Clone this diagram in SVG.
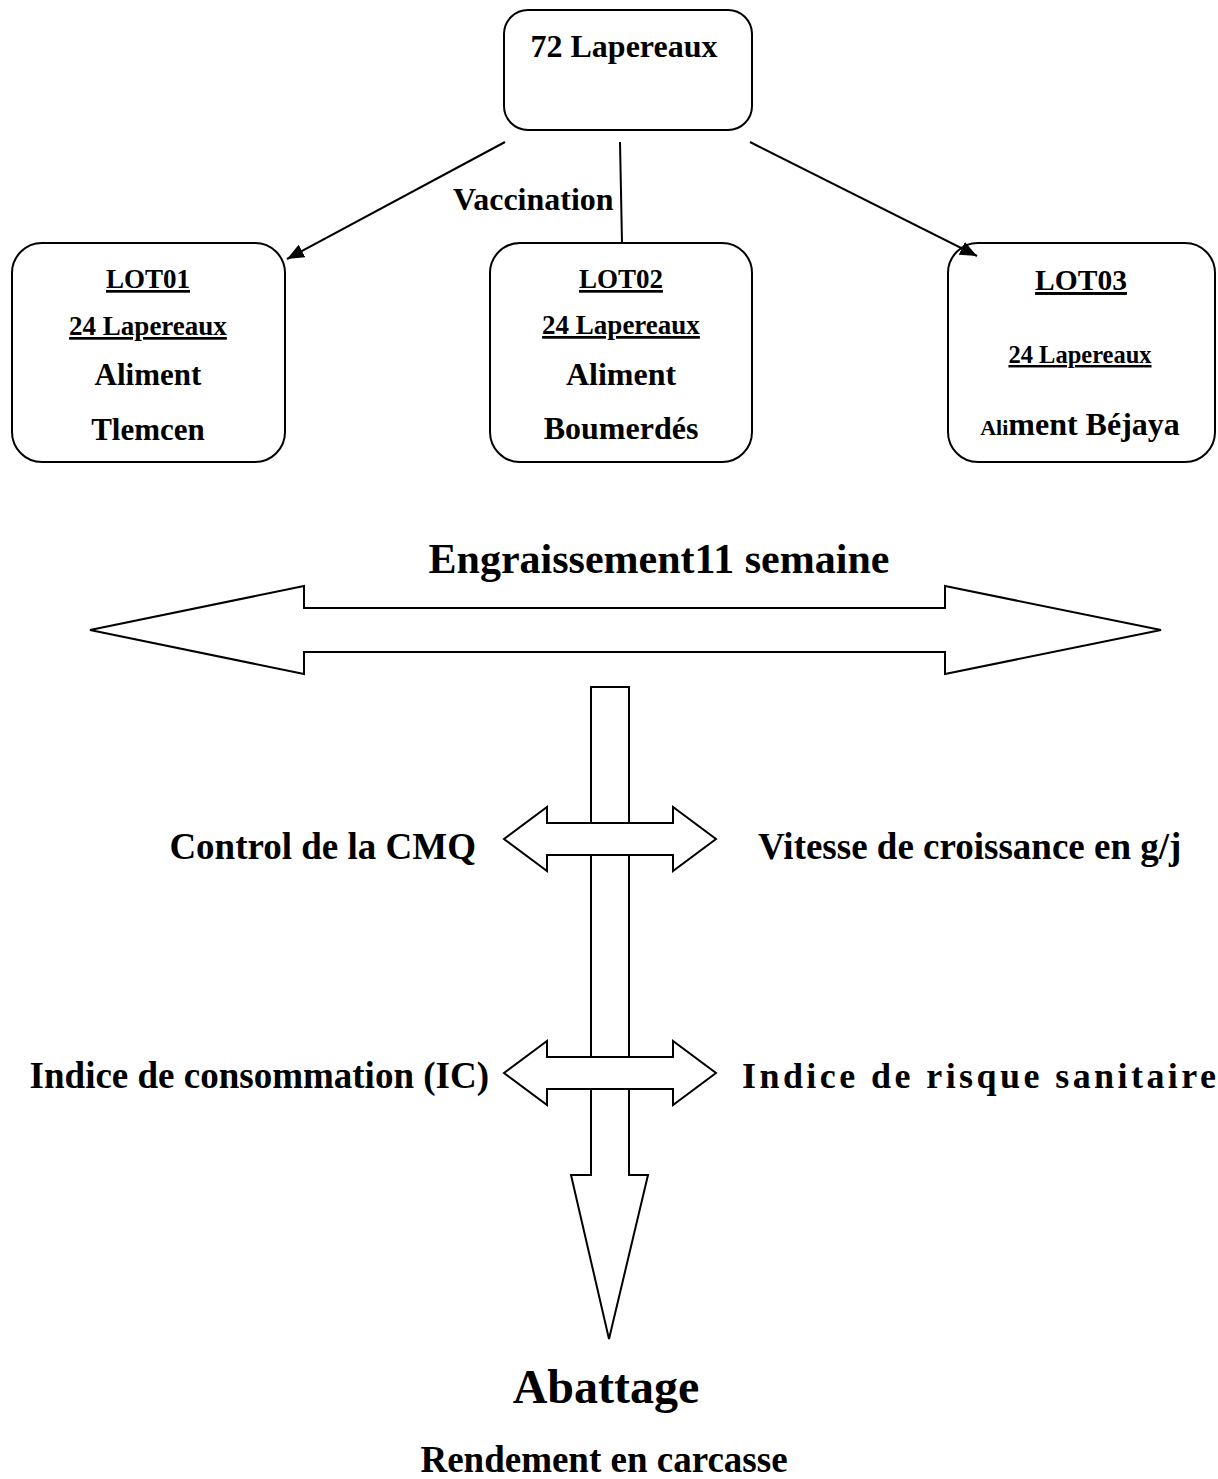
<svg xmlns="http://www.w3.org/2000/svg" width="1218" height="1479" viewBox="0 0 1218 1479">
<defs>
<style>
text{font-family:"Liberation Serif","Times New Roman",serif;font-weight:bold;fill:#000}
.box{fill:#fff;stroke:#000;stroke-width:2}
.shape{fill:#fff;stroke:#000;stroke-width:2;stroke-linejoin:miter}
.conn{stroke:#000;stroke-width:2;fill:none}
.u{text-decoration:underline}
</style>
<marker id="ah" markerUnits="userSpaceOnUse" markerWidth="18" markerHeight="14" refX="17" refY="7" orient="auto">
<path d="M0,0 L17,7 L0,14 z" fill="#000"/>
</marker>
</defs>
<rect width="1218" height="1479" fill="#fff"/>

<g id="top">
<rect class="box" x="504" y="10" width="248" height="120" rx="24"/>
<text x="624" y="57" font-size="32" text-anchor="middle">72 Lapereaux</text>
</g>

<g id="lot01">
<rect class="box" x="12" y="243" width="273" height="219" rx="30"/>
<text class="u" x="148" y="288" font-size="27" text-anchor="middle">LOT01</text>
<text class="u" x="148" y="335" font-size="27" text-anchor="middle">24 Lapereaux</text>
<text x="148" y="385" font-size="31" text-anchor="middle">Aliment</text>
<text x="148" y="440" font-size="31" text-anchor="middle">Tlemcen</text>
</g>

<g id="lot02">
<rect class="box" x="490" y="243" width="262" height="219" rx="30"/>
<text class="u" x="621" y="288" font-size="27" text-anchor="middle">LOT02</text>
<text class="u" x="621" y="334" font-size="27" text-anchor="middle">24 Lapereaux</text>
<text x="621" y="385" font-size="32" text-anchor="middle">Aliment</text>
<text x="621" y="439" font-size="32" text-anchor="middle">Boumerdés</text>
</g>

<g id="lot03">
<rect class="box" x="948" y="243" width="267" height="219" rx="30"/>
<text class="u" x="1081" y="290" font-size="29.5" text-anchor="middle">LOT03</text>
<text class="u" x="1080" y="363" font-size="24.5" text-anchor="middle">24 Lapereaux</text>
<text x="1080" y="435" font-size="32" text-anchor="middle"><tspan font-size="22">Ali</tspan>ment Béjaya</text>
</g>

<g id="connectors">
<line class="conn" x1="505" y1="142" x2="287" y2="259" marker-end="url(#ah)"/>
<line class="conn" x1="620" y1="142" x2="622" y2="243"/>
<line class="conn" x1="750" y1="142" x2="977" y2="256" marker-end="url(#ah)"/>
<text x="453" y="210" font-size="32">Vaccination</text>
</g>

<g id="engraissement">
<text x="659" y="573" font-size="42" text-anchor="middle">Engraissement11 semaine</text>
<polygon class="shape" points="90,630 304,586 304,608 945,608 945,586 1161,630 945,674 945,652 304,652 304,674"/>
</g>

<g id="flow">
<polygon class="shape" points="591,687 629,687 629,1175 648,1175 609,1339 571,1175 591,1175"/>
</g>

<g id="cross1">
<polygon class="shape" points="504,839 547,807 547,823 673,823 673,807 716,839 673,871 673,855 547,855 547,871"/>
<text x="476" y="859" font-size="37" text-anchor="end">Control de la CMQ</text>
<text x="758" y="859" font-size="37">Vitesse de croissance en g/j</text>
</g>

<g id="cross2">
<polygon class="shape" points="504,1073 547,1041 547,1057 673,1057 673,1041 716,1073 673,1105 673,1089 547,1089 547,1105"/>
<text x="489" y="1088" font-size="37" text-anchor="end">Indice de consommation (IC)</text>
<text x="742" y="1088" font-size="36" textLength="474" lengthAdjust="spacing">Indice de risque sanitaire</text>
</g>

<g id="abattage">
<text x="606" y="1403" font-size="48" text-anchor="middle">Abattage</text>
</g>

<g id="rendement">
<text x="604" y="1472" font-size="37" text-anchor="middle">Rendement en carcasse</text>
</g>
</svg>
